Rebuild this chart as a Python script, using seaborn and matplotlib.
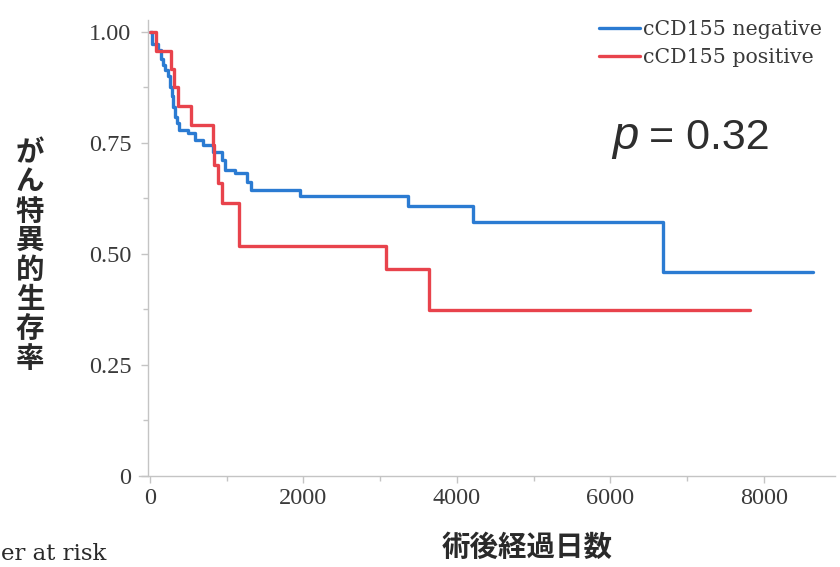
import matplotlib
matplotlib.use("Agg")
import matplotlib.pyplot as plt
from matplotlib.ticker import FixedLocator
import pandas as pd
import seaborn as sns

# Kaplan-Meier step values (days after surgery, survival probability)
neg_days = [0, 22, 109, 150, 175, 200, 240, 262, 290, 305, 326, 350, 380, 500,
            586, 694, 825, 934, 977, 1107, 1260, 1312, 1954, 3360, 4210, 6685, 8634]
neg_surv = [1.0, 0.974, 0.96, 0.94, 0.925, 0.914, 0.90, 0.877, 0.855, 0.832, 0.809,
            0.794, 0.779, 0.772, 0.757, 0.745, 0.730, 0.712, 0.689, 0.682, 0.663,
            0.645, 0.630, 0.607, 0.571, 0.459, 0.459]

pos_days = [0, 78, 270, 313, 370, 530, 816, 830, 890, 934, 1164, 3075, 3635, 7818]
pos_surv = [1.0, 0.958, 0.916, 0.875, 0.833, 0.790, 0.745, 0.70, 0.659, 0.614,
            0.518, 0.466, 0.374, 0.374]

groups = ["cCD155 negative", "cCD155 positive"]
colors = ["#2b7bd2", "#e8434c"]

y_ticks = [0, 0.25, 0.5, 0.75, 1.0]
y_ticklabels = ["0", "0.25", "0.50", "0.75", "1.00"]
x_ticks = [0, 2000, 4000, 6000, 8000]
x_ticklabels = ["0", "2000", "4000", "6000", "8000"]

y_label = "がん特異的生存率"
x_label = "術後経過日数"
p_text = "= 0.32"
risk_text = "er at risk"

df = pd.concat([
    pd.DataFrame({"days": neg_days, "surv": neg_surv, "group": groups[0]}),
    pd.DataFrame({"days": pos_days, "surv": pos_surv, "group": groups[1]}),
], ignore_index=True)

sns.set_style("white")
plt.rcParams["font.family"] = ["Liberation Serif", "DejaVu Serif"]

fig = plt.figure(figsize=(8.4, 5.67), dpi=100)
ax = fig.add_axes([139 / 840, 91 / 567, (835 - 139) / 840, (476 - 20) / 567])

sns.lineplot(data=df, x="days", y="surv", hue="group", hue_order=groups,
             palette=colors, drawstyle="steps-post", estimator=None, sort=False,
             linewidth=2.4, ax=ax)

ax.set_xlim(-143, 8925)
ax.set_ylim(0, 1.027)

spine_col = "#c4c4c4"
for side in ["top", "right"]:
    ax.spines[side].set_visible(False)
ax.spines["left"].set_position(("data", -26))
for side in ["left", "bottom"]:
    ax.spines[side].set_color(spine_col)
    ax.spines[side].set_linewidth(1.0)

ax.xaxis.set_major_locator(FixedLocator(x_ticks))
ax.set_xticklabels(x_ticklabels)
ax.xaxis.set_minor_locator(FixedLocator([1000, 3000, 5000, 7000]))
ax.yaxis.set_major_locator(FixedLocator(y_ticks))
ax.set_yticklabels(y_ticklabels)
ax.yaxis.set_minor_locator(FixedLocator([0.125, 0.375, 0.625, 0.875]))

ax.tick_params(axis="both", which="major", direction="out", length=5, width=1,
               color=spine_col, labelsize=17.5, labelcolor="#3a3a3a", pad=4,
               bottom=True, left=True)
ax.tick_params(axis="both", which="minor", direction="out", length=3.5, width=1,
               color=spine_col, bottom=True, left=True)
ax.tick_params(axis="y", which="major", pad=7)

ax.set_xlabel("")
ax.set_ylabel("")

leg = ax.legend(loc="upper left", bbox_to_anchor=(599 / 840, 1 - 20 / 567),
                bbox_transform=fig.transFigure, frameon=False, borderpad=0,
                borderaxespad=0, handlelength=2.0, handletextpad=0.15,
                labelspacing=0.45, prop={"family": "DejaVu Serif", "size": 14.8})
for line in leg.get_lines():
    line.set_linewidth(2.4)
for t in leg.get_texts():
    t.set_color("#3a3a3a")

# p value annotation
cjk = ["Noto Sans CJK JP", "DejaVu Sans"]
fig.text(612 / 840, 1 - 149 / 567, "p", fontsize=34, style="italic",
         family=["Liberation Sans"], color="#2e2e2e", ha="left", va="baseline")
fig.text(649 / 840, 1 - 149 / 567, p_text, fontsize=31,
         family=["Liberation Sans"], color="#2e2e2e", ha="left", va="baseline")

# vertical stacked y-axis title
y0, step = 153, 29.4
for i, ch in enumerate(y_label):
    fig.text(30 / 840, 1 - (y0 + i * step) / 567, ch, fontsize=20.5,
             fontweight="bold", family=cjk, color="#2a2a2a",
             ha="center", va="center")

fig.text(527 / 840, 1 - 548 / 567, x_label, fontsize=20.5, fontweight="bold",
         family=cjk, color="#2a2a2a", ha="center", va="center")

fig.text(1 / 840, 1 - 560 / 567, risk_text, fontsize=16.5,
         family=["DejaVu Serif"], color="#2a2a2a", ha="left", va="baseline")

fig.savefig("out.png", dpi=100)
